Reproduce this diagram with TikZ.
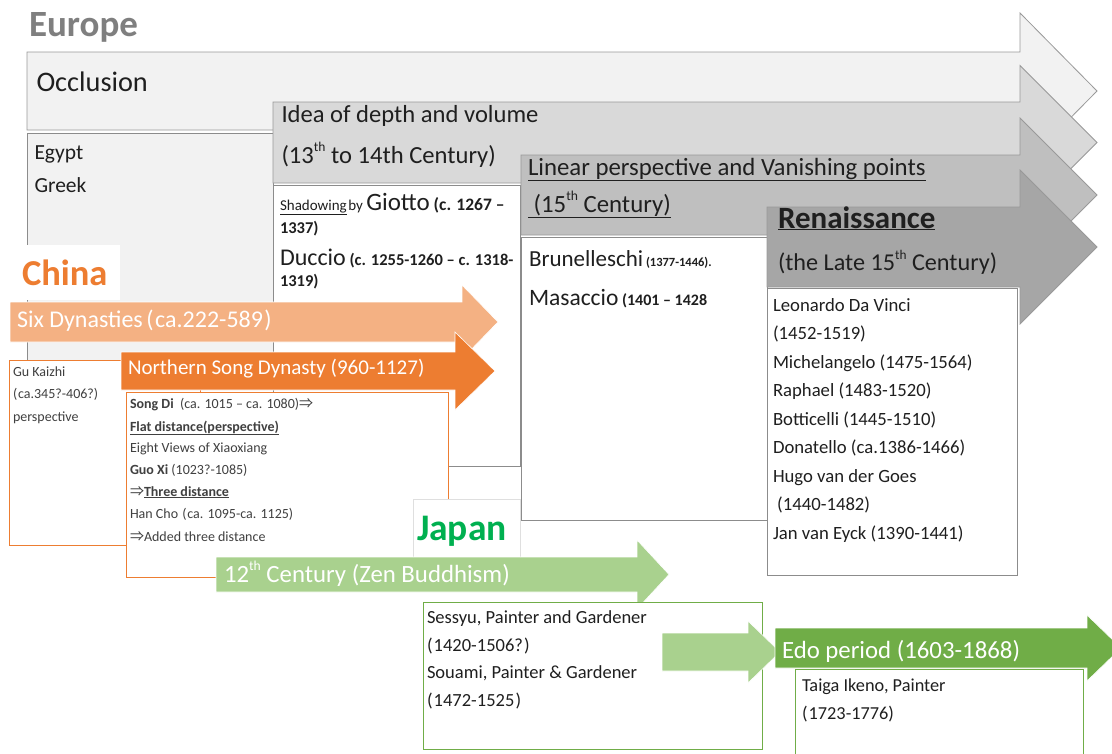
\documentclass[tikz,border=0pt]{standalone}
\usepackage{fontspec}
\usepackage{graphicx}
\setmainfont{Carlito}
\newfontfamily\cjk{Noto Sans CJK JP}
\definecolor{eurogray}{HTML}{7F7F7F}
\definecolor{gA}{HTML}{F2F2F2}
\definecolor{gB}{HTML}{D9D9D9}
\definecolor{gC}{HTML}{BFBFBF}
\definecolor{gD}{HTML}{A6A6A6}
\definecolor{orangeD}{HTML}{ED7D31}
\definecolor{orangeL}{HTML}{F4B183}
\definecolor{greenD}{HTML}{70AD47}
\definecolor{greenL}{HTML}{A9D18E}
\definecolor{japangreen}{HTML}{00B050}
\definecolor{txt}{HTML}{1F1F1F}
\definecolor{txtg}{HTML}{404040}
\newcommand{\fsz}[1]{\fontsize{#1}{#1}\selectfont}
\newcommand{\supth}{\raisebox{0.45em}{\scalebox{0.55}{th}}}
\newcommand{\lp}{(\hspace{0.06em}}
\newcommand{\rp}{\hspace{0.06em})}
% left, body top, body bottom, head base x, head half height, tip x, style
\newcommand{\tlarrow}[7]{%
  \pgfmathsetmacro\tlc{(#2+#3)/2}%
  \pgfmathsetmacro\tlht{\tlc-#5}%
  \pgfmathsetmacro\tlhb{\tlc+#5}%
  \filldraw[#7] (#1,#2) -- (#4,#2) -- (#4,\tlht) -- (#6,\tlc) -- (#4,\tlhb) -- (#4,#3) -- (#1,#3) -- cycle;}
\begin{document}
\begin{tikzpicture}[x=1pt,y=-1pt,
  lbl/.style={anchor=base west, inner sep=0pt, outer sep=0pt, text=txt},
  euarrow/.style={draw=eurogray!80, line width=0.8pt},
  eubox/.style={draw=eurogray!90, line width=0.8pt, fill=white},
  orbox/.style={draw=orangeD, line width=0.8pt, fill=white},
  grbox/.style={draw=greenD, line width=0.8pt, fill=white},
  colarrow/.style={draw=white, line width=0.6pt}]
\useasboundingbox (0,0) rectangle (1112,753);
\clip (0,0) rectangle (1112,753);
\fill[white] (0,0) rectangle (1112,753);

% ---------------- Europe ----------------
\node[lbl, font=\fsz{37}\bfseries, text=eurogray] (europe) at (29,36.7) {Europe};

\tlarrow{27}{52}{130}{1020}{78}{1097}{euarrow, fill=gA}
\node[lbl, font=\fsz{28.3}] (occ) at (36.5,91.5) {Occlusion};
\filldraw[eubox, fill=gA] (27,133) rectangle (273,370);
\node[lbl, font=\fsz{21.5}] (egypt) at (34.5,159) {Egypt};
\node[lbl, font=\fsz{21.5}] (greek) at (34.5,192.5) {Greek};

\tlarrow{273}{102}{183}{1020}{77}{1097}{euarrow, fill=gB}
\node[lbl, font=\fsz{24.6}] (idea) at (281.5,122.5) {Idea of depth and volume};
\node[lbl, font=\fsz{24.6}] (idea2) at (281.5,163) {(13\supth{} to 14th Century)};
\filldraw[eubox] (273,185) rectangle (520,466);
\node[lbl] (giotto) at (280,210) {{\fsz{15}\underline{Shadowing}\hspace{0.1em}by }{\fsz{25}Giotto}{\fsz{17.5}\bfseries\ (c. 1267 –}};
\node[lbl, font=\fsz{16.5}\bfseries] (giotto2) at (280,233) {1337)};
\node[lbl] (duccio) at (280,265) {{\fsz{24}Duccio}{\fsz{16.5}\bfseries\ (c. 1255-1260 – c. 1318-}};
\node[lbl, font=\fsz{16.5}\bfseries] (duccio2) at (280,286) {1319)};

\tlarrow{521}{155}{235}{1020}{77}{1097}{euarrow, fill=gC}
\node[lbl, font=\fsz{24.8}] (linear) at (528,175) {\underline{Linear perspective and Vanishing points}};
\node[lbl, font=\fsz{24.8}] (linear2) at (528,212) {\underline{\ (15\supth{} Century)}};
\filldraw[eubox] (521,237) rectangle (767,520);
\node[lbl] (brun) at (529,266) {{\fsz{23}Brunelleschi}{\fsz{12.5}\bfseries\ (1377-1446).}};
\node[lbl] (masa) at (529,305) {{\fsz{23.5}Masaccio}{\fsz{16}\bfseries\ (1401 – 1428}};

\tlarrow{767}{207}{287}{1020}{77}{1097}{euarrow, fill=gD}
\node[lbl, font=\fsz{31}\bfseries] (ren) at (778,228) {\underline{Renaissance}};
\node[lbl, font=\fsz{24.2}] (ren2) at (778,270) {(the Late 15\supth{} Century)};
\filldraw[eubox] (767,288) rectangle (1017,575);
\begin{scope}[every node/.style={lbl, font=\fsz{18.7}}]
\node (r1) at (773,311) {Leonardo Da Vinci};
\node (r2) at (773,339.5) {(1452-1519)};
\node (r3) at (773,368) {Michelangelo (1475-1564)};
\node (r4) at (773,396.5) {Raphael (1483-1520)};
\node (r5) at (773,425) {Botticelli (1445-1510)};
\node (r6) at (773,453.5) {Donatello (ca.1386-1466)};
\node (r7) at (773,482) {Hugo van der Goes};
\node (r8) at (773,510.5) {\ (1440-1482)};
\node (r9) at (773,539) {Jan van Eyck (1390-1441)};
\end{scope}

% ---------------- China ----------------
\fill[white] (10,245) rectangle (120,300);
\node[lbl, font=\fsz{36.5}\bfseries, text=orangeD] (china) at (22,285) {China};
\tlarrow{10}{302}{342}{462}{37}{498}{colarrow, fill=orangeL}
\node[lbl, font=\fsz{24}, text=white] (six) at (17,327) {Six Dynasties\hspace{0.15em}\lp ca.222-589\rp};
\filldraw[orbox] (9,360) rectangle (200,545);
\begin{scope}[every node/.style={lbl, font=\fsz{14}, text=txtg}]
\node (gu1) at (13,376) {Gu Kaizhi};
\node (gu2) at (13,398.5) {\lp ca.345?-406?)};
\node (gu3) at (13,421) {perspective};
\end{scope}
\tlarrow{121}{352}{390}{455}{39}{495}{colarrow, fill=orangeD}
\node[lbl, font=\fsz{21}, text=white] (nsong) at (128,374) {Northern Song Dynasty (960-1127)};
\filldraw[orbox] (126,392) rectangle (448,577);
\begin{scope}[every node/.style={lbl, font=\fsz{14}, text=txtg}]
\node (s1) at (130,408.5) {\textbf{Song Di}\ \ (ca. 1015 – ca. 1080){\cjk ⇒}};
\node (s2) at (130,431) {\textbf{\underline{Flat distance(perspective)}}};
\node (s3) at (130,452.5) {Eight Views of Xiaoxiang};
\node (s4) at (130,474) {\textbf{Guo Xi} (1023?-1085)};
\node (s5) at (130,496) {{\cjk ⇒}\textbf{\underline{Three distance}}};
\node (s6) at (130,518.5) {Han Cho\hspace{0.3em}\lp ca. 1095-ca. 1125)};
\node (s7) at (130,541) {{\cjk ⇒}Added three distance};
\end{scope}

% ---------------- Japan ----------------
\filldraw[fill=white, draw=gray!25] (413,499) rectangle (520,557);
\node[lbl, font=\fsz{37.5}\bfseries, text=japangreen] (japan) at (417,540) {Japan};
\tlarrow{216}{557}{592}{637}{34.5}{669}{colarrow, fill=greenL}
\node[lbl, font=\fsz{24.8}, text=white] (zen) at (224,582) {12\supth{} Century (Zen Buddhism)};
\filldraw[grbox] (423,602) rectangle (762,749);
\begin{scope}[every node/.style={lbl, font=\fsz{18.5}}]
\node (j1) at (427,623) {Sessyu, Painter and Gardener};
\node (j2) at (427,651) {\lp 1420-1506?\rp};
\node (j3) at (427,678) {Souami, Painter \& Gardener};
\node (j4) at (427,706) {\lp 1472-1525\rp};
\end{scope}
\tlarrow{662}{633}{671}{748}{31}{780}{colarrow, fill=greenL}
\tlarrow{775}{628}{668}{1087}{33}{1121}{colarrow, fill=greenD}
\node[lbl, font=\fsz{24.8}, text=white] (edo) at (782,658) {Edo period (1603-1868)};
\filldraw[grbox] (795,669) rectangle (1083,775);
\node[lbl, font=\fsz{18.3}] (taiga1) at (802,691) {Taiga Ikeno, Painter};
\node[lbl, font=\fsz{18.3}] (taiga2) at (802,719) {\lp 1723-1776)};
\end{tikzpicture}
\end{document}
